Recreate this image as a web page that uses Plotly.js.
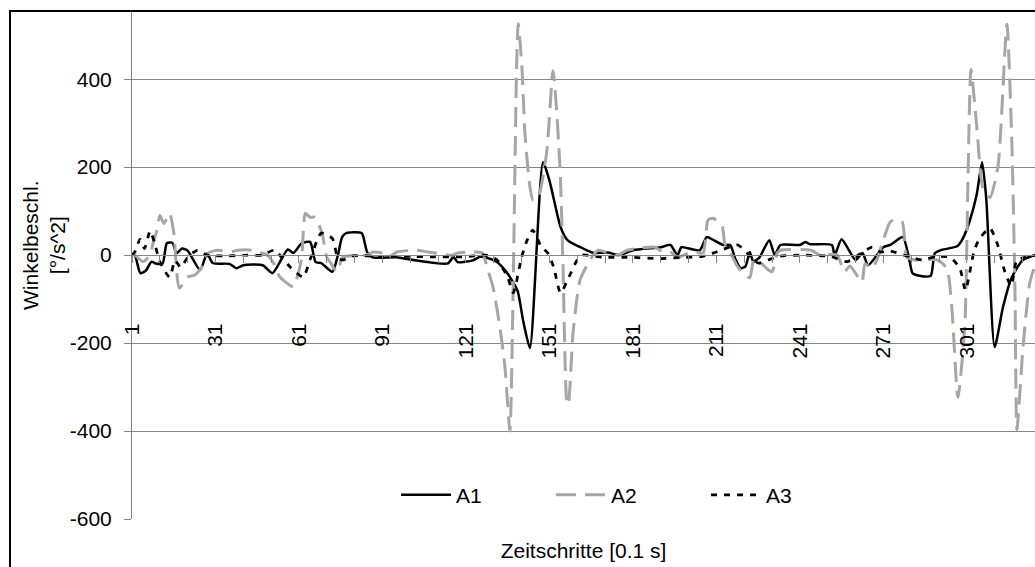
<!DOCTYPE html>
<html>
<head>
<meta charset="utf-8">
<script src="https://cdn.plot.ly/plotly-3.0.1.min.js"></script>
<style>html,body{margin:0;padding:0;background:#fff;}#chart{width:1035px;height:567px;}</style>
</head>
<body>
<div id="chart"></div>
<script>
// Data: [time step, angular acceleration in °/s^2]
const SERIES_NAMES = ['A1', 'A2', 'A3'];
const X_TICK_LABELS = ['1','31','61','91','121','151','181','211','241','271','301'];
const Y_TICK_VALUES = [-600, -400, -200, 0, 200, 400];
const Y_TICK_LABELS = ['-600', '-400', '-200', '0', '200', '400'];
const X_TITLE = 'Zeitschritte [0.1 s]';
const Y_TITLE = 'Winkelbeschl.<br>[°/s^2]';

const A1_POINTS = [
  [1,0],[2,0],[4,-41],[6,-35],[8,-15],[9.5,-19],[12,-19],[13.5,27],[15.5,28],[17,4],
  [19,15],[21,10],[25.5,-34],[28,4],[30,-18],[36,-20],[38.5,-30],[41,-23],[48,-23],[51.5,-41],
  [57,13],[59,5],[62,27],[65,30],[67,-16],[69,-18],[73,-38],[75,0],[76.5,41],[78,50],
  [83.5,50],[85.5,7],[87.5,-5],[96,-5],[102,-11],[114.5,-19],[116.5,-4],[118,-16],[123.5,-12],[126,-4],
  [128.5,-6],[132,-15],[135.5,-38],[139.5,-80],[141.5,-147],[144,-211],[148.7,211],[151,170],[155,64],[157.5,34],
  [164.5,11],[167,5],[172,6],[176,0],[181,11],[191,18],[194.5,23],[197,0],[198.5,18],[205,11],
  [207.5,41],[210,34],[213.5,23],[216,23],[217.7,-7],[219.8,-30],[221.5,-25],[223,7],[224.3,-15],[226.5,-5],
  [230,34],[232,0],[234,23],[241,23],[243,30],[244.5,25],[252.5,23],[253.5,0],[256,36],[261,-11],
  [263.5,5],[265.5,-23],[271,18],[273.5,23],[278,41],[280.5,-16],[281.5,-41],[284,-47],[288,-47],[289.5,4],
  [292,12],[297.5,20],[299.5,37],[302,77],[304.5,136],[306.5,211],[308,127],[311,-209],[314,-118],[317,-53],
  [321,-12],[325.5,0],[330,2]
];

const A2_POINTS = [
  [1,0],[2,0],[5,-15],[7.5,0],[8.5,25],[10,57],[11,90],[12.5,72],[14.5,95],[16,52],
  [18,-75],[20.8,-50],[23.6,-45],[26.5,-23],[28.3,4],[31.5,11],[37,8],[39,11],[44,11],[49.5,0],
  [51.7,-16],[54.2,-50],[59,-72],[60.6,-45],[62,-5],[63.3,95],[65,86],[66.8,86],[69.3,50],[71,-5],
  [72.1,-15],[74.7,-38],[76.8,-5],[85.4,0],[87.6,7],[91.2,4],[93,-5],[96.2,7],[103.4,11],[107.4,7],
  [116.3,0],[118,5],[123.5,7],[126.8,5],[128.9,-34],[130.7,-72],[133.2,-163],[135,-253],[136.8,-400],[137.9,-102],
  [139.2,427],[139.8,526],[141.1,430],[142.2,277],[144,155],[145.1,125],[146.9,130],[150.1,238],[152.3,420],[154.8,200],
  [155.9,-27],[157.2,-329],[157.8,-340],[159.5,-177],[162,-57],[165.6,-11],[167.4,5],[168.5,11],[175.6,0],[178.9,11],
  [189,18],[190.7,11],[194.3,8],[197.2,-5],[200.4,3],[202.6,7],[206.2,5],[208,80],[209.8,84],[213,68],
  [214,27],[216,5],[218.7,-27],[221.3,-45],[223,-52],[224.5,-11],[227,-18],[229,-30],[231,-38],[232.8,4],
  [234,11],[245,11],[248.3,0],[254.4,0],[257,-38],[259,-25],[263.3,-61],[264.4,-20],[267,-30],[268.7,-11],
  [269.8,11],[273.4,75],[274.5,79],[277.7,77],[279.5,-5],[282.3,-11],[290.3,-11],[293.8,-30],[295.6,-118],[297.8,-324],
  [300.3,-159],[301.4,168],[302.5,422],[304.6,290],[306.8,152],[309.3,131],[312.2,202],[315.4,525],[317.2,250],[318.3,-77],
  [319,-397],[321.2,-209],[323.7,-61],[326,-20],[330,-5]
];

const A3_POINTS = [
  [1,0],[2,7],[3.9,36],[5.5,15],[7.5,55],[9,30],[11,-15],[14.5,-50],[16.5,-12],[18.5,-28],
  [21,-5],[24.5,11],[28,0],[35,-2],[42,0],[48,0],[52,11],[58,-28],[62.5,-50],[65,-10],
  [69,50],[73,38],[75,-7],[77,-11],[80,-2],[90,-3],[100,-3],[110,-4],[120,-4],[128,0],
  [132,-10],[136,-50],[138,-86],[141,-5],[143,34],[145,57],[148,20],[150.5,4],[152.5,-27],[155,-86],
  [158,-50],[161,-11],[163,0],[170,-5],[180,-5],[190,-8],[200,-5],[206,-3],[211,7],[218.7,23],
  [222,5],[226,-18],[233,-3],[242,0],[252,-3],[258,-15],[261,-4],[267,18],[270,7],[273,10],
  [280,-3],[285,-11],[290,-3],[295,-5],[298.5,-30],[300.5,-80],[303.5,6],[305.5,37],[309.3,61],[312,25],
  [315,-45],[317,-70],[319,-11],[322,-5],[326,0],[330,0]
];

const X_RANGE = [1, 325.5];
const Y_RANGE = [-600, 555];

const GRID = '#868686';
const FONT = 'Liberation Sans, Arial, Helvetica, sans-serif';

function mk(points, name, line, xaxis) {
  return {
    type: 'scatter', mode: 'lines', name: name, xaxis: xaxis, yaxis: 'y',
    x: points.map(p => p[0]), y: points.map(p => p[1]),
    line: Object.assign({shape: 'spline', smoothing: 0.6}, line),
    hoverinfo: 'skip'
  };
}

const traces = [
  mk(A1_POINTS, SERIES_NAMES[0], {color: '#000000', width: 2.5}, 'x'),
  mk(A2_POINTS, SERIES_NAMES[1], {color: '#a6a6a6', width: 3, dash: '20px,9px'}, 'x'),
  mk(A3_POINTS, SERIES_NAMES[2], {color: '#000000', width: 2.75, dash: '6px,7px'}, 'x2')
];

const zeroPos = (0 - Y_RANGE[0]) / (Y_RANGE[1] - Y_RANGE[0]);
const tickVals = X_TICK_LABELS.map(Number);

const layout = {
  width: 1035, height: 567,
  margin: {l: 132, r: 0, t: 11, b: 48, pad: 0},
  paper_bgcolor: '#ffffff', plot_bgcolor: '#ffffff',
  font: {family: FONT, size: 21, color: '#000000'},
  showlegend: true,
  legend: {
    orientation: 'h', x: 0.2924, xanchor: 'left', y: 0.047, yanchor: 'middle',
    font: {family: FONT, size: 21, color: '#000'}, bgcolor: 'rgba(0,0,0,0)',
    itemwidth: 50,
    entrywidth: 90, entrywidthmode: 'pixels', traceorder: 'normal'
  },
  // category axis drawn at the value 0, labels pushed down as in the reference
  xaxis: {
    anchor: 'free', position: zeroPos, side: 'bottom',
    range: X_RANGE, showgrid: false, zeroline: false,
    showline: true, linecolor: GRID, linewidth: 1,
    tickmode: 'array', tickvals: tickVals, ticktext: X_TICK_LABELS,
    ticks: 'outside', ticklen: 7, tickcolor: GRID, tickwidth: 1,
    tickangle: -90, ticklabelstandoff: 52,
    tickfont: {family: FONT, size: 21, color: '#000'},
    minor: {ticks: 'outside', ticklen: 7, tickcolor: GRID, tickwidth: 1, tick0: 1, dtick: 10, showgrid: false},
    fixedrange: true
  },
  // bottom axis carrying the axis title
  xaxis2: {
    overlaying: 'x', anchor: 'y', side: 'bottom',
    range: X_RANGE, showgrid: false, zeroline: false, showline: false,
    ticks: '', showticklabels: false, fixedrange: true,
    title: {text: X_TITLE, standoff: 24, font: {family: FONT, size: 21, color: '#000'}}
  },
  yaxis: {
    range: Y_RANGE, tickmode: 'array', tickvals: Y_TICK_VALUES, ticktext: Y_TICK_LABELS,
    showgrid: true, gridcolor: GRID, gridwidth: 1, zeroline: false,
    showline: true, linecolor: GRID, linewidth: 1,
    ticks: 'outside', ticklen: 7, tickcolor: GRID,
    ticklabelstandoff: 8,
    tickfont: {family: FONT, size: 21, color: '#000'},
    fixedrange: true
  },
  annotations: [{
    text: Y_TITLE, textangle: -90, showarrow: false,
    xref: 'paper', yref: 'paper',
    x: (44 - 132) / 903, y: (519 - 245) / 508, xanchor: 'center', yanchor: 'middle',
    font: {family: FONT, size: 21, color: '#000'}
  }],
  shapes: [{
    type: 'rect', xref: 'paper', yref: 'paper',
    x0: (10 - 132) / 903, x1: 1.05, y0: -0.2, y1: 1,
    line: {color: '#000000', width: 2}, fillcolor: 'rgba(0,0,0,0)', layer: 'above'
  }]
};

Plotly.newPlot('chart', traces, layout, {displayModeBar: false, staticPlot: true});
</script>
</body>
</html>
